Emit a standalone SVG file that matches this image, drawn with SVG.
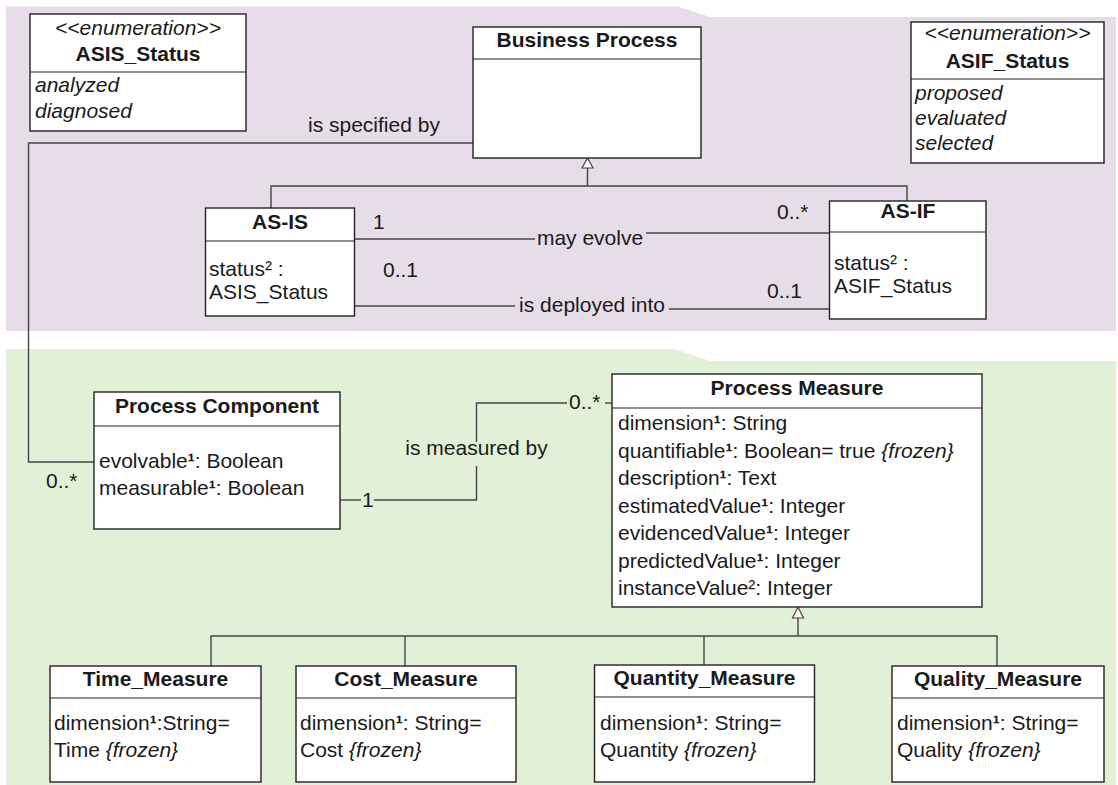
<svg xmlns="http://www.w3.org/2000/svg" width="1118" height="785" viewBox="0 0 1118 785">
<style>
text{font-family:"Liberation Sans",Arial,sans-serif;font-size:21px;fill:#1a1a1a}
.b{font-weight:bold}
.i{font-style:italic}
.c{text-anchor:middle}
.box{fill:#fff;stroke:#222;stroke-width:1.4}
.div{stroke:#222;stroke-width:1.2;fill:none}
.ln{stroke:#444;stroke-width:1.4;fill:none}
.tri{fill:#fff;stroke:#444;stroke-width:1.2}
.sup{font-weight:bold}
</style>
<rect width="1118" height="785" fill="#fff"/>
<polygon points="6,6.5 678,6.5 710,17 1116,17 1116,331 6,331" fill="#e7dde9"/>
<polygon points="6,349 675,349 710,361 1116,361 1116,785 6,785" fill="#e2f0d8"/>

<g id="connectors">
  <!-- is specified by -->
  <polyline class="ln" points="473,143 28.5,143 28.5,462 94,462"/>
  <!-- generalization Business Process -->
  <polyline class="ln" points="587.5,168 587.5,186"/>
  <polyline class="ln" points="271,208 271,186 907,186 907,201"/>
  <polygon class="tri" points="587.5,158 593,168 582,168"/>
  <!-- may evolve -->
  <line class="ln" x1="355" y1="239" x2="535" y2="239"/>
  <line class="ln" x1="646" y1="233" x2="830" y2="233"/>
  <!-- is deployed into -->
  <line class="ln" x1="355" y1="306" x2="515" y2="306"/>
  <line class="ln" x1="669" y1="309" x2="830" y2="309"/>
  <!-- is measured by -->
  <polyline class="ln" points="340,500 361,500"/>
  <polyline class="ln" points="374,500 476.5,500 476.5,466"/>
  <polyline class="ln" points="476.5,442 476.5,403 567,403"/>
  <polyline class="ln" points="605,403 612,403"/>
  <!-- generalization Process Measure -->
  <polyline class="ln" points="798,618 798,636"/>
  <polyline class="ln" points="211,666 211,636 997,636 997,666"/>
  <polyline class="ln" points="405,636 405,666"/>
  <polyline class="ln" points="704,636 704,665"/>
  <polygon class="tri" points="798,607 803.5,618 792.5,618"/>
  <!-- labels -->
  <text x="308" y="132">is specified by</text>
  <text x="373" y="229">1</text>
  <text x="777" y="219">0..*</text>
  <text class="c" x="590" y="245">may evolve</text>
  <text x="383" y="277">0..1</text>
  <text x="767" y="298">0..1</text>
  <text class="c" x="592" y="312">is deployed into</text>
  <text x="46" y="488">0..*</text>
  <text x="362" y="507">1</text>
  <text class="c" x="476.5" y="455">is measured by</text>
  <text x="569" y="409">0..*</text>
</g>

<g id="asis-status">
  <rect class="box" x="30" y="14" width="216" height="117"/>
  <line class="div" x1="30" y1="72" x2="246" y2="72"/>
  <text class="c i" x="138" y="35">&lt;&lt;enumeration&gt;&gt;</text>
  <text class="c b" x="138" y="61">ASIS_Status</text>
  <text class="i" x="35" y="92">analyzed</text>
  <text class="i" x="35" y="118">diagnosed</text>
</g>

<g id="business-process">
  <rect class="box" x="473" y="27" width="228" height="131"/>
  <line class="div" x1="473" y1="59" x2="701" y2="59"/>
  <text class="c b" x="587" y="47">Business Process</text>
</g>

<g id="asif-status">
  <rect class="box" x="911" y="22" width="193" height="141"/>
  <line class="div" x1="911" y1="79" x2="1104" y2="79"/>
  <text class="c i" x="1007.5" y="40">&lt;&lt;enumeration&gt;&gt;</text>
  <text class="c b" x="1007.5" y="68">ASIF_Status</text>
  <text class="i" x="915" y="100">proposed</text>
  <text class="i" x="915" y="125">evaluated</text>
  <text class="i" x="915" y="150">selected</text>
</g>

<g id="as-is">
  <rect class="box" x="205.5" y="208" width="149" height="108"/>
  <line class="div" x1="205.5" y1="241" x2="354.5" y2="241"/>
  <text class="c b" x="280" y="229">AS-IS</text>
  <text x="209" y="276">status² :</text>
  <text x="209" y="299">ASIS_Status</text>
</g>

<g id="as-if">
  <rect class="box" x="829.5" y="201" width="156.5" height="118"/>
  <line class="div" x1="829.5" y1="232" x2="986" y2="232"/>
  <text class="c b" x="908" y="218">AS-IF</text>
  <text x="834" y="270">status² :</text>
  <text x="834" y="293">ASIF_Status</text>
</g>

<g id="process-component">
  <rect class="box" x="94" y="392" width="246" height="137"/>
  <line class="div" x1="94" y1="426" x2="340" y2="426"/>
  <text class="c b" x="217" y="413">Process Component</text>
  <text x="99" y="468">evolvable<tspan class="sup">¹</tspan>: Boolean</text>
  <text x="99" y="495">measurable<tspan class="sup">¹</tspan>: Boolean</text>
</g>

<g id="process-measure">
  <rect class="box" x="612" y="374" width="370" height="233"/>
  <line class="div" x1="612" y1="408" x2="982" y2="408"/>
  <text class="c b" x="797" y="395">Process Measure</text>
  <text x="618" y="430">dimension<tspan class="sup">¹</tspan>: String</text>
  <text x="618" y="457.5">quantifiable<tspan class="sup">¹</tspan>: Boolean= true <tspan class="i">{frozen}</tspan></text>
  <text x="618" y="485">description<tspan class="sup">¹</tspan>: Text</text>
  <text x="618" y="512.5">estimatedValue<tspan class="sup">¹</tspan>: Integer</text>
  <text x="618" y="540">evidencedValue<tspan class="sup">¹</tspan>: Integer</text>
  <text x="618" y="567.5">predictedValue<tspan class="sup">¹</tspan>: Integer</text>
  <text x="618" y="595">instanceValue²: Integer</text>
</g>

<g id="time-measure">
  <rect class="box" x="50" y="666" width="211" height="116"/>
  <line class="div" x1="50" y1="698" x2="261" y2="698"/>
  <text class="c b" x="155.5" y="686">Time_Measure</text>
  <text x="54" y="730">dimension<tspan class="sup">¹</tspan>:String=</text>
  <text x="54" y="757">Time <tspan class="i">{frozen}</tspan></text>
</g>

<g id="cost-measure">
  <rect class="box" x="296" y="666" width="220" height="116"/>
  <line class="div" x1="296" y1="698" x2="516" y2="698"/>
  <text class="c b" x="406" y="686">Cost_Measure</text>
  <text x="300" y="730">dimension<tspan class="sup">¹</tspan>: String=</text>
  <text x="300" y="757">Cost <tspan class="i">{frozen}</tspan></text>
</g>

<g id="quantity-measure">
  <rect class="box" x="594.5" y="665" width="220" height="117"/>
  <line class="div" x1="594.5" y1="697" x2="814.5" y2="697"/>
  <text class="c b" x="704.5" y="685">Quantity_Measure</text>
  <text x="600" y="730">dimension<tspan class="sup">¹</tspan>: String=</text>
  <text x="600" y="757">Quantity <tspan class="i">{frozen}</tspan></text>
</g>

<g id="quality-measure">
  <rect class="box" x="892" y="666" width="212" height="116"/>
  <line class="div" x1="892" y1="698" x2="1104" y2="698"/>
  <text class="c b" x="998" y="686">Quality_Measure</text>
  <text x="897" y="730">dimension<tspan class="sup">¹</tspan>: String=</text>
  <text x="897" y="757">Quality <tspan class="i">{frozen}</tspan></text>
</g>
</svg>
